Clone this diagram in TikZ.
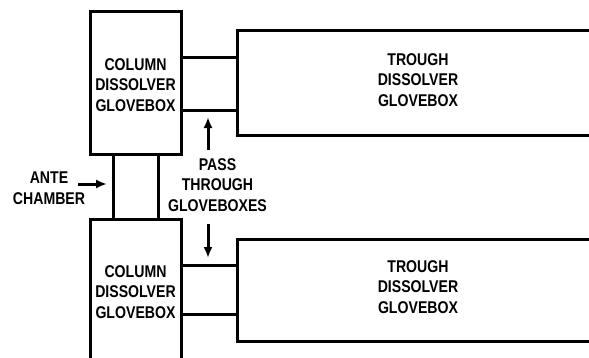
\documentclass[tikz,border=0pt]{standalone}
\usepackage{fontspec}
\setmainfont{Liberation Sans}
\usetikzlibrary{arrows.meta}
\begin{document}
\begin{tikzpicture}[x=1pt,y=-1pt,
  box/.style={draw, line width=3pt, inner sep=0pt, outer sep=0pt},
  lbl/.style={font=\bfseries\fontsize{17}{20.5}\selectfont, align=center, xscale=0.83, transform shape, inner sep=0pt},
  wall/.style={line width=3pt},
  arr/.style={line width=3pt, -{Latex[length=11pt,width=9pt]}}]
\useasboundingbox (0,0) rectangle (589,357);
% boxes
\node[box, minimum width=91pt, minimum height=143pt] (col1) at (135.5,82.5) {};
\node[box, minimum width=363pt, minimum height=105pt] (tr1) at (418.5,82.5) {};
\node[box, minimum width=91pt, minimum height=143pt] (col2) at (135.5,290.5) {};
\node[box, minimum width=363pt, minimum height=102pt] (tr2) at (418.5,290) {};
% labels
\node[lbl] (tcol1) at (135.5,85) {COLUMN\\DISSOLVER\\GLOVEBOX};
\node[lbl] (ttr1) at (418,80) {TROUGH\\DISSOLVER\\GLOVEBOX};
\node[lbl] (tcol2) at (135.5,292) {COLUMN\\DISSOLVER\\GLOVEBOX};
\node[lbl] (ttr2) at (418,287) {TROUGH\\DISSOLVER\\GLOVEBOX};
\node[lbl] (ante) at (49,188) {ANTE\\CHAMBER};
\node[lbl] (pass) at (217.5,185) {PASS\\THROUGH\\GLOVEBOXES};
% pass-through walls
\coordinate (p1) at (0,57);
\coordinate (p2) at (0,110);
\coordinate (p3) at (0,265);
\coordinate (p4) at (0,314);
\draw[wall] (col1.east |- p1) -- (tr1.west |- p1);
\draw[wall] (col1.east |- p2) -- (tr1.west |- p2);
\draw[wall] (col2.east |- p3) -- (tr2.west |- p3);
\draw[wall] (col2.east |- p4) -- (tr2.west |- p4);
% ante chamber walls
\coordinate (a1) at (113,0);
\coordinate (a2) at (158,0);
\draw[wall] (col1.south -| a1) -- (col2.north -| a1);
\draw[wall] (col1.south -| a2) -- (col2.north -| a2);
% arrows
\coordinate (antetip) at (107,184);
\coordinate (antetail) at (78,184);
\draw[arr] (antetail) -- (antetip);
\coordinate (uptail) at (208,150);
\coordinate (uptip) at (208,117);
\draw[arr] (uptail) -- (uptip);
\coordinate (dntail) at (208,224);
\coordinate (dntip) at (208,258);
\draw[arr] (dntail) -- (dntip);
\end{tikzpicture}
\end{document}
